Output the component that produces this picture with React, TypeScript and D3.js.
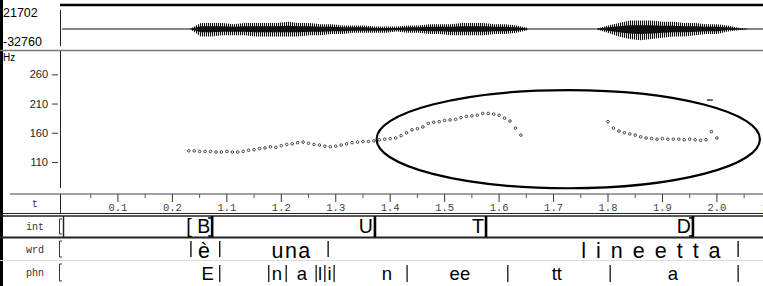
import { useEffect, useRef } from "react";
import * as d3 from "d3";

const W = 763;
const H = 286;

// time axis: position in display seconds, with the labels printed on the figure
const majorTicks = [0.1, 0.2, 0.3, 0.4, 0.5, 0.6, 0.7, 0.8, 0.9, 1.0, 1.1, 1.2, 1.3];
const majorLabels = ["0.1", "0.2", "1.1", "1.2", "1.3", "1.4", "1.5", "1.6", "1.7", "1.8", "1.9", "2.0", "2.1"];
const minorTicks = [0.05, 0.15, 0.25, 0.35, 0.45, 0.55, 0.65, 0.75, 0.85, 0.95, 1.05, 1.15, 1.25];

// pitch axis
const hzTicks = [260, 210, 160, 110];

// F0 samples every 10 ms
const f0Start1 = 0.23;
const f0Seg1 = [
  129, 129, 128, 128, 128, 127, 127, 128, 127, 127, 128, 130, 131, 133, 134, 136, 135, 138, 140, 141,
  143, 144, 142, 140, 139, 137, 136, 137, 139, 141, 143, 144, 145, 145, 146, 148, 149, 150, 151, 155,
  160, 165, 167, 170, 176, 178, 179, 181, 182, 183, 186, 188, 189, 190, 193, 193, 192, 190, 185, 180,
  168, 156,
];
const f0Start2 = 1.0;
const f0Seg2 = [179, 168, 163, 160, 158, 156, 153, 151, 150, 149, 150, 149, 149, 149, 148, 149, 148, 147, 148, 162, 151];
const strayT = [1.187];
const strayHz = [216];

// waveform envelope every 20 ms (relative amplitude, + up / - down)
const wave1Start = 0.232;
const wave1Up = [0, 5, 5, 5, 4, 5, 5, 5, 5, 6, 5, 5, 4, 4, 3, 3, 3, 2, 2, 2, 3, 3, 4, 4, 4, 5, 5, 5, 4, 4, 3, 1];
const wave1Dn = [0, 6, 6, 5, 5, 5, 6, 6, 6, 6, 6, 5, 5, 4, 4, 3, 3, 3, 3, 2, 3, 3, 4, 4, 5, 5, 5, 5, 4, 4, 3, 1];
const wave2Start = 0.98;
const wave2Up = [0.5, 3, 5, 7, 7, 7, 6, 6, 5, 5, 4, 4, 3, 1, 0];
const wave2Dn = [0.5, 3, 6, 8, 9, 8, 7, 6, 6, 5, 4, 4, 2, 1, 0];

// the ellipse drawn around the final contour (centre t / Hz, radii)
const ringT = 0.927;
const ringHz = 149;
const ringRt = 0.352;
const ringRhz = 84;

// intonation tier
const intText = ["[ B", "U", "T", "D"];
const intT = [0.273, 0.572, 0.776, 1.156];
const intBracket = [true, false, false, true];

// word tier
const wrdText = ["è", "una", "lineetta"];
const wrdTextT = [0.258, 0.419, 1.088];
const wrdSpacing = [0, 1.5, 10];
const wrdBounds = [0.234, 0.287, 0.486, 1.239];

// phone tier
const phnText = ["E", "n", "a", "l", "i", "n", "ee", "tt", "a"];
const phnTextT = [0.265, 0.392, 0.438, 0.471, 0.4885, 0.594, 0.728, 0.906, 1.119];
const phnBounds = [0.287, 0.377, 0.409, 0.464, 0.48, 0.497, 0.631, 0.816, 1.004, 1.239];

const rowNames = ["t", "int", "wrd", "phn"];

const App = () => {
  const ref = useRef<SVGSVGElement | null>(null);

  useEffect(() => {
    if (!ref.current) return;
    const svg = d3.select(ref.current);
    svg.selectAll("*").remove();

    const left = 63.5;
    const x = d3.scaleLinear().domain([0, 1]).range([left, left + 544.5]);
    const y = d3.scaleLinear().domain([50, 300]).range([197, 51]);
    const amp = d3.scaleLinear().domain([-10, 10]).range([39, 19]);

    const sans = "Liberation Sans, Arial, sans-serif";
    const mono = "Liberation Mono, DejaVu Sans Mono, monospace";

    svg.append("rect").attr("width", W).attr("height", H).attr("fill", "#fff");

    // striped fill for the waveform texture
    const pat = svg
      .append("defs")
      .append("pattern")
      .attr("id", "wstripe")
      .attr("width", 2)
      .attr("height", 4)
      .attr("patternUnits", "userSpaceOnUse");
    pat.append("rect").attr("width", 1.1).attr("height", 4).attr("fill", "#111");

    // frame lines
    svg.append("line").attr("x1", 1.5).attr("x2", 1.5).attr("y1", 0).attr("y2", H).attr("stroke", "#000").attr("stroke-width", 3);
    svg.append("line").attr("x1", 60).attr("x2", W).attr("y1", 5).attr("y2", 5).attr("stroke", "#000").attr("stroke-width", 2.5);
    svg.append("line").attr("x1", 0).attr("x2", W).attr("y1", 50.5).attr("y2", 50.5).attr("stroke", "#777").attr("stroke-width", 1.5);
    svg.append("line").attr("x1", 60.5).attr("x2", 60.5).attr("y1", 10).attr("y2", 46).attr("stroke", "#222");
    svg.append("line").attr("x1", 60.5).attr("x2", 60.5).attr("y1", 51).attr("y2", 188).attr("stroke", "#222");

    // waveform
    svg.append("text").attr("x", 3).attr("y", 17).attr("font-family", sans).attr("font-size", 12.5).text("21702");
    svg.append("text").attr("x", 3).attr("y", 46).attr("font-family", sans).attr("font-size", 12.5).text("-32760");
    svg.append("line").attr("x1", 62).attr("x2", W).attr("y1", amp(0)).attr("y2", amp(0)).attr("stroke", "#111").attr("stroke-width", 1.2);

    const outer = d3
      .area<{ t: number; up: number; dn: number }>()
      .x(d => x(d.t))
      .y0(d => amp(-d.dn * 1.25))
      .y1(d => amp(d.up * 1.2));
    const inner = d3
      .area<{ t: number; up: number; dn: number }>()
      .x(d => x(d.t))
      .y0(d => amp(-d.dn * 0.55))
      .y1(d => amp(d.up * 0.55));
    const waves = [
      wave1Up.map((u, i) => ({ t: wave1Start + i * 0.02, up: u, dn: wave1Dn[i] })),
      wave2Up.map((u, i) => ({ t: wave2Start + i * 0.02, up: u, dn: wave2Dn[i] })),
    ];
    waves.forEach(w => {
      svg.append("path").attr("d", outer(w)!).attr("fill", "url(#wstripe)");
      svg.append("path").attr("d", inner(w)!).attr("fill", "#111");
    });

    // pitch axis
    svg.append("text").attr("x", 3).attr("y", 61).attr("font-family", sans).attr("font-size", 10).text("Hz");
    const hz = svg.append("g");
    hzTicks.forEach(v => {
      hz.append("text")
        .attr("x", 48)
        .attr("y", y(v) + 4)
        .attr("text-anchor", "end")
        .attr("font-family", sans)
        .attr("font-size", 11)
        .attr("fill", "#222")
        .text(v);
      hz.append("line").attr("x1", 52).attr("x2", 58).attr("y1", y(v) + 0.5).attr("y2", y(v) + 0.5).attr("stroke", "#333");
    });

    // F0 points
    const f0 = [
      ...f0Seg1.map((v, i) => ({ t: f0Start1 + i * 0.01, v })),
      ...f0Seg2.map((v, i) => ({ t: f0Start2 + i * 0.01, v })),
    ];
    svg
      .append("g")
      .selectAll("circle")
      .data(f0)
      .enter()
      .append("circle")
      .attr("cx", d => x(d.t))
      .attr("cy", d => y(d.v))
      .attr("r", 1.3)
      .attr("fill", "#fff")
      .attr("stroke", "#333")
      .attr("stroke-width", 0.9);
    strayT.forEach((t, i) => {
      svg.append("line").attr("x1", x(t) - 3).attr("x2", x(t) + 3).attr("y1", y(strayHz[i])).attr("y2", y(strayHz[i])).attr("stroke", "#222").attr("stroke-width", 1.3);
    });

    // ellipse annotation
    svg
      .append("ellipse")
      .attr("cx", x(ringT))
      .attr("cy", y(ringHz))
      .attr("rx", x(ringRt) - x(0))
      .attr("ry", y(0) - y(ringRhz))
      .attr("fill", "none")
      .attr("stroke", "#000")
      .attr("stroke-width", 2.2);

    // time row
    const tTop = 194;
    svg.append("line").attr("x1", 10).attr("x2", W).attr("y1", tTop).attr("y2", tTop).attr("stroke", "#444").attr("stroke-width", 1.2);
    svg.append("line").attr("x1", 60.5).attr("x2", 60.5).attr("y1", tTop).attr("y2", 213).attr("stroke", "#222");
    const tg = svg.append("g");
    majorTicks.forEach((t, i) => {
      tg.append("line").attr("x1", x(t)).attr("x2", x(t)).attr("y1", tTop).attr("y2", tTop + 8).attr("stroke", "#333");
      tg.append("text")
        .attr("x", x(t))
        .attr("y", 211)
        .attr("text-anchor", "middle")
        .attr("font-family", mono)
        .attr("font-size", 10.5)
        .attr("fill", "#444")
        .text(majorLabels[i]);
    });
    minorTicks.forEach(t => {
      tg.append("line").attr("x1", x(t)).attr("x2", x(t)).attr("y1", tTop).attr("y2", tTop + 4).attr("stroke", "#555");
    });

    // tier rows
    const rows = [
      { top: 194, bot: 213 },
      { top: 216, bot: 237 },
      { top: 238, bot: 260 },
      { top: 261, bot: 284 },
    ];
    rowNames.forEach((n, i) => {
      svg.append("text")
        .attr("x", 35)
        .attr("y", (rows[i].top + rows[i].bot) / 2 + 3.5)
        .attr("text-anchor", "middle")
        .attr("font-family", mono)
        .attr("font-size", 10)
        .attr("fill", "#333")
        .text(n);
    });
    svg.append("line").attr("x1", 0).attr("x2", W).attr("y1", 213.5).attr("y2", 213.5).attr("stroke", "#222").attr("stroke-width", 1.2);
    svg.append("line").attr("x1", 0).attr("x2", W).attr("y1", 216).attr("y2", 216).attr("stroke", "#222").attr("stroke-width", 1.5);
    svg.append("line").attr("x1", 0).attr("x2", W).attr("y1", 237.5).attr("y2", 237.5).attr("stroke", "#222").attr("stroke-width", 2);
    svg.append("line").attr("x1", 0).attr("x2", W).attr("y1", 260.5).attr("y2", 260.5).attr("stroke", "#ddd").attr("stroke-width", 1);
    svg.append("line").attr("x1", 63.5).attr("x2", 63.5).attr("y1", 216).attr("y2", 237).attr("stroke", "#222").attr("stroke-width", 1.5);
    // left brackets of the tiers
    rows.slice(1).forEach(r => {
      svg.append("path")
        .attr("d", `M62,${r.top + 3}H59.5V${r.bot - 3}H62`)
        .attr("fill", "none")
        .attr("stroke", "#333")
        .attr("stroke-width", 1);
    });

    // intonation tier
    const ir = rows[1];
    intText.forEach((s, i) => {
      const bx = x(intT[i]);
      svg.append("text")
        .attr("x", bx - 2)
        .attr("y", ir.bot - 4)
        .attr("text-anchor", "end")
        .attr("font-family", sans)
        .attr("font-size", 19.5)
        .text(s);
      svg.append("line").attr("x1", bx).attr("x2", bx).attr("y1", ir.top).attr("y2", ir.bot).attr("stroke", "#000").attr("stroke-width", 2.6);
      if (intBracket[i]) {
        svg.append("path").attr("d", `M${bx - 4},${ir.top + 2}H${bx}M${bx - 4},${ir.bot - 1}H${bx}`).attr("stroke", "#000").attr("stroke-width", 1.5);
      }
    });

    // word tier
    const wr = rows[2];
    wrdText.forEach((s, i) => {
      svg.append("text")
        .attr("x", x(wrdTextT[i]))
        .attr("y", wr.bot - 2)
        .attr("text-anchor", "middle")
        .attr("font-family", sans)
        .attr("font-size", 21.5)
        .attr("letter-spacing", wrdSpacing[i])
        .text(s);
    });
    wrdBounds.forEach(t => {
      svg.append("line").attr("x1", x(t)).attr("x2", x(t)).attr("y1", wr.top + 3).attr("y2", wr.bot - 3).attr("stroke", "#000").attr("stroke-width", 1.3);
    });

    // phone tier
    const pr = rows[3];
    phnText.forEach((s, i) => {
      svg.append("text")
        .attr("x", x(phnTextT[i]))
        .attr("y", pr.bot - 4)
        .attr("text-anchor", "middle")
        .attr("font-family", sans)
        .attr("font-size", 18.5)
        .text(s);
    });
    phnBounds.forEach(t => {
      svg.append("line").attr("x1", x(t)).attr("x2", x(t)).attr("y1", pr.top + 4).attr("y2", pr.bot - 2).attr("stroke", "#000").attr("stroke-width", 1.2);
    });
  }, []);

  return (
    <svg
      ref={ref}
      width={W}
      height={H}
      viewBox={`0 0 ${W} ${H}`}
      style={{ position: "absolute", left: 0, top: 0, display: "block" }}
    />
  );
};

export default App;
